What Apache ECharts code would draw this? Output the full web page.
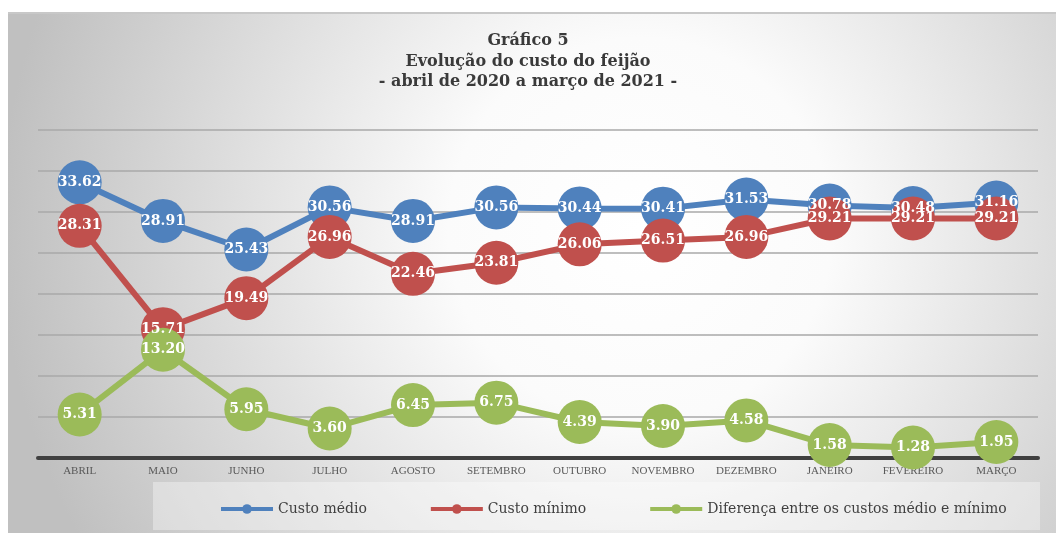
<!DOCTYPE html>
<html>
<head>
<meta charset="utf-8">
<script src="https://cdn.jsdelivr.net/npm/echarts@6/dist/echarts.min.js"></script>
<style>
html,body{margin:0;padding:0;background:#fff;}
#chart{width:1056px;height:537px;}
</style>
</head>
<body>
<div id="chart"></div>
<script>
const categories = ['ABRIL','MAIO','JUNHO','JULHO','AGOSTO','SETEMBRO','OUTUBRO','NOVEMBRO','DEZEMBRO','JANEIRO','FEVEREIRO','MARÇO'];
const custoMedio = [33.62, 28.91, 25.43, 30.56, 28.91, 30.56, 30.44, 30.41, 31.53, 30.78, 30.48, 31.16];
const custoMinimo = [28.31, 15.71, 19.49, 26.96, 22.46, 23.81, 26.06, 26.51, 26.96, 29.21, 29.21, 29.21];
const diferenca = [5.31, 13.20, 5.95, 3.60, 6.45, 6.75, 4.39, 3.90, 4.58, 1.58, 1.28, 1.95];
const seriesNames = ['Custo médio', 'Custo mínimo', 'Diferença entre os custos médio e mínimo'];
const titleLines = ['Gráfico 5', 'Evolução do custo do feijão', '- abril de 2020 a março de 2021 -'];

const colors = ['#4f81bd', '#c0504d', '#9bbb59'];
const serif = '"DejaVu Serif", serif';

function mkSeries(name, data, color) {
  return {
    name: name,
    type: 'line',
    data: data,
    symbol: 'circle',
    symbolSize: 44,
    lineStyle: { color: color, width: 6 },
    itemStyle: { color: color },
    label: {
      show: true,
      position: 'inside',
      color: '#ffffff',
      fontFamily: serif,
      fontWeight: 'bold',
      fontSize: 14,
      formatter: p => p.value.toFixed(2)
    },
    emphasis: { disabled: true },
    animation: false
  };
}

const chart = echarts.init(document.getElementById('chart'), null, { renderer: 'canvas' });
chart.setOption({
  backgroundColor: '#ffffff',
  animation: false,
  color: colors,
  title: {
    text: titleLines.join('\n'),
    left: 'center',
    top: 26,
    textStyle: {
      fontFamily: serif,
      fontWeight: 'bold',
      fontSize: 16,
      lineHeight: 20.5,
      color: '#3a3a3a'
    }
  },
  graphic: [
    {
      type: 'rect',
      z: -10,
      silent: true,
      shape: { x: 8, y: 12, width: 1048, height: 521 },
      style: {
        fill: {
          type: 'radial', x: 640, y: 230, r: 640, global: true,
          colorStops: [
            { offset: 0, color: '#ffffff' },
            { offset: 0.3, color: '#fbfbfb' },
            { offset: 1, color: '#c0c0c0' }
          ]
        },
        stroke: null
      }
    },
    {
      type: 'rect',
      z: -9,
      silent: true,
      shape: { x: 8, y: 12, width: 1048, height: 2 },
      style: { fill: '#c8c8c8' }
    },
    {
      type: 'rect',
      z: -8,
      silent: true,
      shape: { x: 153, y: 482, width: 887, height: 48 },
      style: { fill: 'rgba(255,255,255,0.35)' }
    }
  ],
  grid: { left: 38, right: 18, top: 130, bottom: 79 },
  legend: {
    data: seriesNames,
    left: 214,
    top: 497,
    itemGap: 62,
    itemWidth: 52,
    itemHeight: 12,
    lineStyle: { width: 4 },
    textStyle: { fontFamily: serif, fontSize: 14, color: '#404040' }
  },
  xAxis: {
    type: 'category',
    data: categories,
    boundaryGap: true,
    axisLine: { lineStyle: { color: '#404040', width: 4 } },
    axisTick: { show: false },
    axisLabel: {
      interval: 0,
      fontFamily: '"Liberation Serif", serif',
      fontSize: 11,
      color: '#595959',
      margin: 8
    }
  },
  yAxis: {
    type: 'value',
    min: 0,
    max: 40,
    interval: 5,
    axisLabel: { show: false },
    axisLine: { show: false },
    axisTick: { show: false },
    splitLine: { lineStyle: { color: '#a8a8a8', width: 1.5 } }
  },
  series: [
    mkSeries(seriesNames[0], custoMedio, colors[0]),
    mkSeries(seriesNames[1], custoMinimo, colors[1]),
    mkSeries(seriesNames[2], diferenca, colors[2])
  ]
});
</script>
</body>
</html>
